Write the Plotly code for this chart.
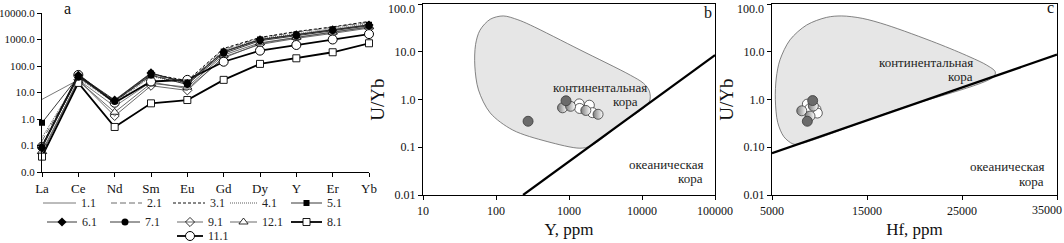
import plotly.graph_objects as go
import numpy as np

W, H = 1064, 243
FONT = "Liberation Serif, Times New Roman, serif"

# ---------------- DATA ----------------
ree = ["La", "Ce", "Nd", "Sm", "Eu", "Gd", "Dy", "Y", "Er", "Yb"]

s1_1 = [5.5, 30, 3.0, 25, 14, 200, 700, 1200, 1900, 2900]
s2_1 = [0.15, 38, 4.5, 45, 25, 420, 1150, 1900, 2900, 4500]
s3_1 = [0.10, 42, 5.0, 50, 28, 460, 1200, 2000, 3000, 4800]
s4_1 = [0.20, 35, 4.0, 40, 22, 380, 1050, 1700, 2600, 4000]
s5_1 = [0.72, 40, 4.8, 52, 24, 350, 1000, 1550, 2400, 3600]
s6_1 = [0.08, 45, 5.2, 55, 22, 340, 980, 1500, 2300, 3500]
s7_1 = [0.09, 38, 4.6, 45, 20, 300, 900, 1400, 2200, 3300]
s9_1 = [0.05, 30, 1.3, 18, 12, 220, 650, 1100, 1700, 2700]
s12_1 = [0.06, 28, 1.8, 22, 16, 260, 750, 1200, 1900, 3000]
s8_1 = [0.038, 23, 0.5, 3.9, 5.2, 30, 120, 195, 330, 720]
s11_1 = [0.09, 46, 4.1, 26, 30, 145, 380, 620, 1000, 1600]

a_ticks = [0.01, 0.1, 1, 10, 100, 1000, 10000]
a_ticktext = ["0.0", "0.1", "1.0", "10.0", "100.0", "1000.0", "10000.0"]

# panel b: Y (ppm) vs U/Yb
b_dark_y = [275, 910]
b_dark_uyb = [0.35, 0.94]
b_half_y = [815, 1050, 1700, 2500]
b_half_uyb = [0.67, 0.72, 0.59, 0.49]
b_white_y = [1380, 1400, 1900, 2100]
b_white_uyb = [0.81, 0.65, 0.76, 0.53]
b_line_y = [235, 100000]
b_line_uyb = [0.01, 8.5]
b_field_logy = [1.78, 1.92, 2.1, 2.3, 2.47, 3.15, 3.84, 4.02, 4.1, 4.1, 3.7, 3.3,
                3.15, 2.7, 2.23, 1.92, 1.76, 1.71, 1.72, 1.78]
b_field_loguyb = [1.45, 1.68, 1.75, 1.67, 1.56, 1.04, 0.51, 0.34, 0.18, -0.05, -0.52,
                  -0.97, -1.02, -0.88, -0.64, -0.28, 0.2, 0.7, 1.15, 1.45]
b_xticks = [10, 100, 1000, 10000, 100000]
b_yticks = [0.01, 0.1, 1, 10, 100]
b_yticktext = ["0.01", "0.1", "1.0", "10.0", ""]   # top label placed flush with the edge
top_label = "100.0"

# panel c: Hf (ppm) vs U/Yb
c_dark_hf = [9280, 8720]
c_dark_uyb = [0.95, 0.35]
c_half_hf = [8130, 9350, 9000]
c_half_uyb = [0.58, 0.73, 0.45]
c_white_hf = [8720, 9630, 9770, 9000]
c_white_uyb = [0.80, 0.62, 0.52, 0.65]
c_line_hf = [5000, 35000]
c_line_uyb = [0.075, 8.7]
c_field_hf = [5350, 5450, 5840, 6900, 8650, 10750, 12340, 14500, 17070, 22340, 25840,
              27600, 28500, 28300, 18000, 7900, 7200, 6250, 5600, 5350]
c_field_loguyb = [0.0, 0.45, 0.83, 1.25, 1.56, 1.72, 1.75, 1.70, 1.56, 1.18, 0.89,
                  0.72, 0.58, 0.47, -0.22, -0.93, -0.93, -0.78, -0.48, 0.0]
c_xticks = [5000, 15000, 25000, 35000]
c_xticktext = ["5000", "15000", "25000", ""]  # last label placed flush with the edge
c_last_label = "35000"
c_yticks = [0.01, 0.1, 1, 10, 100]
c_yticktext = ["0.01", "0.10", "1.0", "10.0", ""]

# ---------------- STYLES ----------------
styles = {
    "1.1": dict(line=dict(color="#555", width=0.8), mode="lines", marker=dict()),
    "2.1": dict(line=dict(color="#444", width=0.8, dash="6px,3px"), mode="lines", marker=dict()),
    "3.1": dict(line=dict(color="#111", width=1.0, dash="3px,2px"), mode="lines", marker=dict()),
    "4.1": dict(line=dict(color="#333", width=0.8, dash="1px,1px"), mode="lines", marker=dict()),
    "5.1": dict(line=dict(color="#222", width=0.9), mode="lines+markers",
                marker=dict(symbol="square", size=6, color="black")),
    "6.1": dict(line=dict(color="#222", width=0.9), mode="lines+markers",
                marker=dict(symbol="diamond", size=7, color="black")),
    "7.1": dict(line=dict(color="#222", width=0.9), mode="lines+markers",
                marker=dict(symbol="circle", size=7, color="black")),
    "9.1": dict(line=dict(color="#444", width=0.8), mode="lines+markers",
                marker=dict(symbol="diamond-open", size=7, color="black", line=dict(width=0.8))),
    "12.1": dict(line=dict(color="#444", width=0.8), mode="lines+markers",
                 marker=dict(symbol="triangle-up", size=8, color="white",
                             line=dict(color="black", width=0.8))),
    "8.1": dict(line=dict(color="black", width=1.8), mode="lines+markers",
                marker=dict(symbol="square", size=7, color="white",
                            line=dict(color="black", width=0.9))),
    "11.1": dict(line=dict(color="black", width=1.8), mode="lines+markers",
                 marker=dict(symbol="circle", size=9, color="white",
                             line=dict(color="black", width=1.0))),
}
series_a = [("1.1", s1_1), ("2.1", s2_1), ("3.1", s3_1), ("4.1", s4_1), ("9.1", s9_1),
            ("12.1", s12_1), ("8.1", s8_1), ("11.1", s11_1), ("7.1", s7_1),
            ("6.1", s6_1), ("5.1", s5_1)]

# legend layout positions (pixels): name, line x0, line x1, y
legend_rows = [
    ("1.1", 43, 76, 203), ("2.1", 111, 142, 203), ("3.1", 173, 205, 203),
    ("4.1", 230, 257, 203), ("5.1", 291, 322, 203),
    ("6.1", 47, 77, 222), ("7.1", 110, 140, 222), ("9.1", 177, 203, 222),
    ("12.1", 230, 257, 222), ("8.1", 291, 322, 222),
    ("11.1", 177, 203, 236),
]


def px(x):
    return x / W


def py(y):
    return 1 - y / H


fig = go.Figure()

# ---------------- PANEL A ----------------
xi = list(range(len(ree)))
for name, vals in series_a:
    st = styles[name]
    fig.add_trace(go.Scatter(x=xi, y=vals, mode=st["mode"], line=st["line"],
                             marker=st["marker"], xaxis="x", yaxis="y",
                             showlegend=False, cliponaxis=False, name=name))

# legend (drawn on a hidden pixel-space overlay axis)
for name, x0, x1, yy in legend_rows:
    st = styles[name]
    fig.add_trace(go.Scatter(x=[x0, x1], y=[yy, yy], mode="lines", line=st["line"],
                             xaxis="x4", yaxis="y4", showlegend=False, hoverinfo="skip",
                             cliponaxis=False))
    if "markers" in st["mode"]:
        fig.add_trace(go.Scatter(x=[(x0 + x1) / 2], y=[yy], mode="markers",
                                 marker=st["marker"], xaxis="x4", yaxis="y4",
                                 showlegend=False, hoverinfo="skip", cliponaxis=False))
    fig.add_annotation(x=x1 + 3, y=yy, xref="x4", yref="y4", text=name, showarrow=False,
                       xanchor="left", yanchor="middle",
                       font=dict(family=FONT, size=12, color="#222"))

# ---------------- PANEL B ----------------
fig.add_trace(go.Scatter(x=[10 ** v for v in b_field_logy], y=[10 ** v for v in b_field_loguyb],
                         mode="lines", fill="toself", fillcolor="#e6e6e6",
                         line=dict(color="#666", width=0.8, shape="spline", smoothing=0.9),
                         xaxis="x2", yaxis="y2", showlegend=False))
fig.add_trace(go.Scatter(x=b_line_y, y=b_line_uyb, mode="lines",
                         line=dict(color="black", width=2.2), xaxis="x2", yaxis="y2",
                         showlegend=False))

dark_m = dict(symbol="circle", size=10, color="#6b6b6b", line=dict(color="#3a3a3a", width=0.8))
half_m = dict(symbol="circle", size=10, color="#7a7a7a",
              gradient=dict(type="horizontal", color="white"),
              line=dict(color="#3a3a3a", width=0.8))
white_m = dict(symbol="circle", size=10, color="white", line=dict(color="#3a3a3a", width=0.8))

fig.add_trace(go.Scatter(x=b_white_y, y=b_white_uyb, mode="markers", marker=white_m,
                         xaxis="x2", yaxis="y2", showlegend=False))
fig.add_trace(go.Scatter(x=b_half_y, y=b_half_uyb, mode="markers", marker=half_m,
                         xaxis="x2", yaxis="y2", showlegend=False))
fig.add_trace(go.Scatter(x=b_dark_y, y=b_dark_uyb, mode="markers", marker=dark_m,
                         xaxis="x2", yaxis="y2", showlegend=False))

# ---------------- PANEL C ----------------
fig.add_trace(go.Scatter(x=c_field_hf, y=[10 ** v for v in c_field_loguyb],
                         mode="lines", fill="toself", fillcolor="#e6e6e6",
                         line=dict(color="#666", width=0.8, shape="spline", smoothing=0.9),
                         xaxis="x3", yaxis="y3", showlegend=False))
fig.add_trace(go.Scatter(x=c_line_hf, y=c_line_uyb, mode="lines",
                         line=dict(color="black", width=2.2), xaxis="x3", yaxis="y3",
                         showlegend=False))
fig.add_trace(go.Scatter(x=c_white_hf, y=c_white_uyb, mode="markers", marker=white_m,
                         xaxis="x3", yaxis="y3", showlegend=False))
fig.add_trace(go.Scatter(x=c_half_hf, y=c_half_uyb, mode="markers", marker=half_m,
                         xaxis="x3", yaxis="y3", showlegend=False))
fig.add_trace(go.Scatter(x=c_dark_hf, y=c_dark_uyb, mode="markers", marker=dark_m,
                         xaxis="x3", yaxis="y3", showlegend=False))

tickfont = dict(family=FONT, size=12, color="#111")
ytickfont = dict(family=FONT, size=12, color="#111")
titlefont = dict(family=FONT, size=17, color="#111")

common = dict(showgrid=False, zeroline=False, ticks="outside", ticklen=4, tickcolor="black",
              linecolor="black", showline=True, ticklabeloverflow="allow")

fig.update_layout(
    width=W, height=H, margin=dict(l=0, r=0, t=0, b=0, autoexpand=False),
    paper_bgcolor="white", plot_bgcolor="rgba(0,0,0,0)",
    xaxis=dict(domain=[px(42), px(369)], range=[0, 9], tickvals=xi, ticktext=ree,
               linewidth=1, tickfont=dict(family=FONT, size=13, color="#111"),
               anchor="y", **common),
    yaxis=dict(domain=[py(172), py(13)], type="log", range=[-2, 4], tickvals=a_ticks,
               ticktext=a_ticktext, linewidth=1,
               tickfont=dict(family=FONT, size=11, color="#111"), anchor="x", **common),
    xaxis2=dict(domain=[px(423), px(715)], type="log", range=[1, 5], tickvals=b_xticks,
                ticktext=[str(v) for v in b_xticks], mirror=True, linewidth=1.3,
                tickfont=tickfont, title=dict(text="Y, ppm", font=titlefont, standoff=6),
                anchor="y2", **common),
    yaxis2=dict(domain=[py(195), py(4)], type="log", range=[-2, 2], tickvals=b_yticks,
                ticktext=b_yticktext, mirror=True, linewidth=1.3, tickfont=ytickfont,
                title=dict(text="U/Yb", font=dict(family=FONT, size=19, color="#111"),
                           standoff=4), anchor="x2", **common),
    xaxis3=dict(domain=[px(772), px(1057)], range=[5000, 35000], tickvals=c_xticks,
                ticktext=c_xticktext, mirror=True, linewidth=1.3,
                tickfont=tickfont, title=dict(text="Hf, ppm", font=titlefont, standoff=6),
                anchor="y3", **common),
    yaxis3=dict(domain=[py(195), py(4)], type="log", range=[-2, 2], tickvals=c_yticks,
                ticktext=c_yticktext, mirror=True, linewidth=1.3, tickfont=ytickfont,
                title=dict(text="U/Yb", font=dict(family=FONT, size=19, color="#111"),
                           standoff=4), anchor="x3", **common),
    xaxis4=dict(domain=[0, 1], range=[0, W], visible=False, anchor="y4", fixedrange=True),
    yaxis4=dict(domain=[0, 1], range=[H, 0], visible=False, anchor="x4", fixedrange=True),
)

# edge tick labels kept inside the page
fig.add_annotation(x=1.0, y=py(210), xref="paper", yref="paper", text=c_last_label,
                   showarrow=False, xanchor="right", yanchor="middle", font=tickfont)
for ax_px in (423, 772):
    fig.add_annotation(x=px(ax_px - 6), y=1.0, xref="paper", yref="paper", text=top_label,
                       showarrow=False, xanchor="right", yanchor="top", font=ytickfont)

ann_font = dict(family=FONT, size=13, color="#222")
texts = [
    ("x2", "y2", np.log10(12600), np.log10(1.75), "континентальная"),
    ("x2", "y2", np.log10(9300), np.log10(0.93), "кора"),
    ("x2", "y2", np.log10(72000), np.log10(0.043), "океаническая"),
    ("x2", "y2", np.log10(72000), np.log10(0.022), "кора"),
    ("x3", "y3", 26370, np.log10(6.1), "континентальная"),
    ("x3", "y3", 26370, np.log10(3.1), "кора"),
    ("x3", "y3", 33840, np.log10(0.039), "океаническая"),
    ("x3", "y3", 33840, np.log10(0.019), "кора"),
]
for xr, yr, x, y, t in texts:
    fig.add_annotation(x=x, y=y, xref=xr, yref=yr, text=t, showarrow=False,
                       xanchor="right", yanchor="middle", font=ann_font)

for t, x, y in [("a", 67, 9), ("b", 708, 12), ("c", 1050, 8)]:
    fig.add_annotation(x=px(x), y=py(y), xref="paper", yref="paper", text=t,
                       showarrow=False, xanchor="center", yanchor="middle",
                       font=dict(family=FONT, size=16, color="#111"))

fig.write_html("out.html", config={"displayModeBar": False},
               post_script="document.body.style.margin='0';document.body.style.overflow='hidden';")
